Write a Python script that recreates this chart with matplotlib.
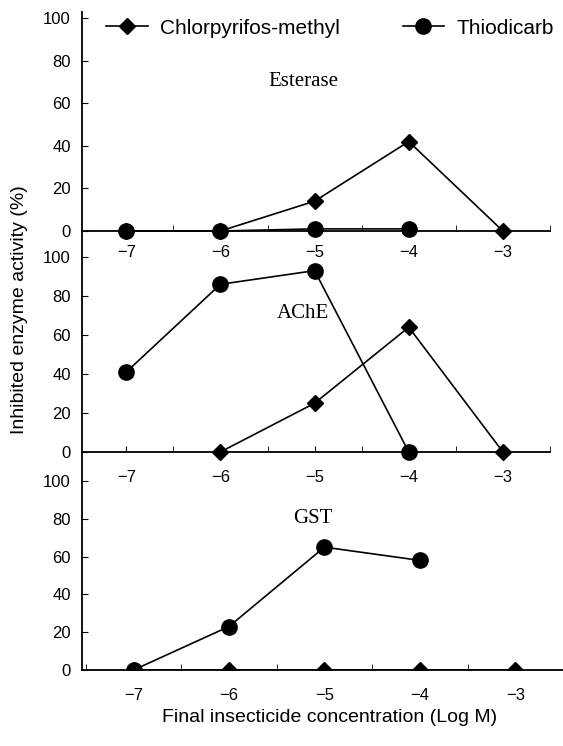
import numpy as np
import matplotlib.pyplot as plt
from matplotlib.ticker import MultipleLocator

plt.rcParams['font.family'] = ['Liberation Sans', 'DejaVu Sans']

nan = np.nan
conc = [-7, -6, -5, -4, -3]

# inhibited enzyme activity (%)
est_chlor = [0, 0, 14, 42, 0]
est_thio = [0, 0, 1, 1, nan]
ache_chlor = [nan, 0, 25, 64, 0]
ache_thio = [41, 86, 93, 0, nan]
gst_chlor = [0, 0, 0, 0, 0]
gst_thio = [0, 23, 65, 58, nan]

names = ["Esterase", "AChE", "GST"]
chlor = [est_chlor, ache_chlor, gst_chlor]
thio = [est_thio, ache_thio, gst_thio]

W, H = 563, 746
fig = plt.figure(figsize=(W / 100, H / 100), dpi=100)

# panel boxes in pixels: left, top, right, bottom
boxes = [(82, 12, 550, 257), (82, 257, 550, 481), (82, 481, 563, 670)]
ylims = [(-12.2, 102.8), (-14.9, 100), (0, 100)]
xlims = [(-7.47, -2.5), (-7.47, -2.5), (-7.54, -2.5)]
label_y = [70, 71, 80]
xpads = [10, 13, 13]

axes = []
for i in range(3):
    l, t, r, b = boxes[i]
    ax = fig.add_axes([l / W, 1 - b / H, (r - l) / W, (b - t) / H])
    ax.patch.set_alpha(0)
    ax.plot(conc, chlor[i], color='k', lw=1.2, marker='D', ms=8.5,
            label='Chlorpyrifos-methyl', zorder=3)
    ax.plot(conc, thio[i], color='k', lw=1.2, marker='o', ms=11,
            label='Thiodicarb', zorder=4)
    ax.set_xlim(*xlims[i])
    ax.set_ylim(*ylims[i])
    ax.spines['top'].set_visible(False)
    ax.spines['right'].set_visible(False)
    ax.spines['bottom'].set_position(('data', 0))
    ax.spines['bottom'].set_linewidth(1.3)
    ax.spines['left'].set_linewidth(1.3)
    ax.set_yticks([0, 20, 40, 60, 80, 100])
    ax.set_xticks(conc)
    ax.xaxis.set_minor_locator(MultipleLocator(0.5))
    ax.tick_params(axis='y', direction='in', length=4, pad=8, labelsize=12)
    ax.tick_params(axis='x', which='both', direction='in', length=4, pad=xpads[i], labelsize=12)
    ax.text(-5.12, label_y[i], names[i], family='Liberation Serif', fontsize=15,
            ha='center', va='center')
    axes.append(ax)

fig.legend(handles=axes[0].lines, loc='center left', bbox_to_anchor=(106 / W, 1 - 28 / H),
           ncol=2, frameon=False, fontsize=15, handlelength=2.0, handletextpad=0.6,
           columnspacing=3.0, borderpad=0, borderaxespad=0)

fig.text(20 / W, 1 - 310 / H, "Inhibited enzyme activity (%)", rotation=90,
         ha='center', va='center', fontsize=14)
fig.text(330 / W, 1 - 718 / H, "Final insecticide concentration (Log M)",
         ha='center', va='center', fontsize=14)

fig.savefig("out.png", dpi=100)
